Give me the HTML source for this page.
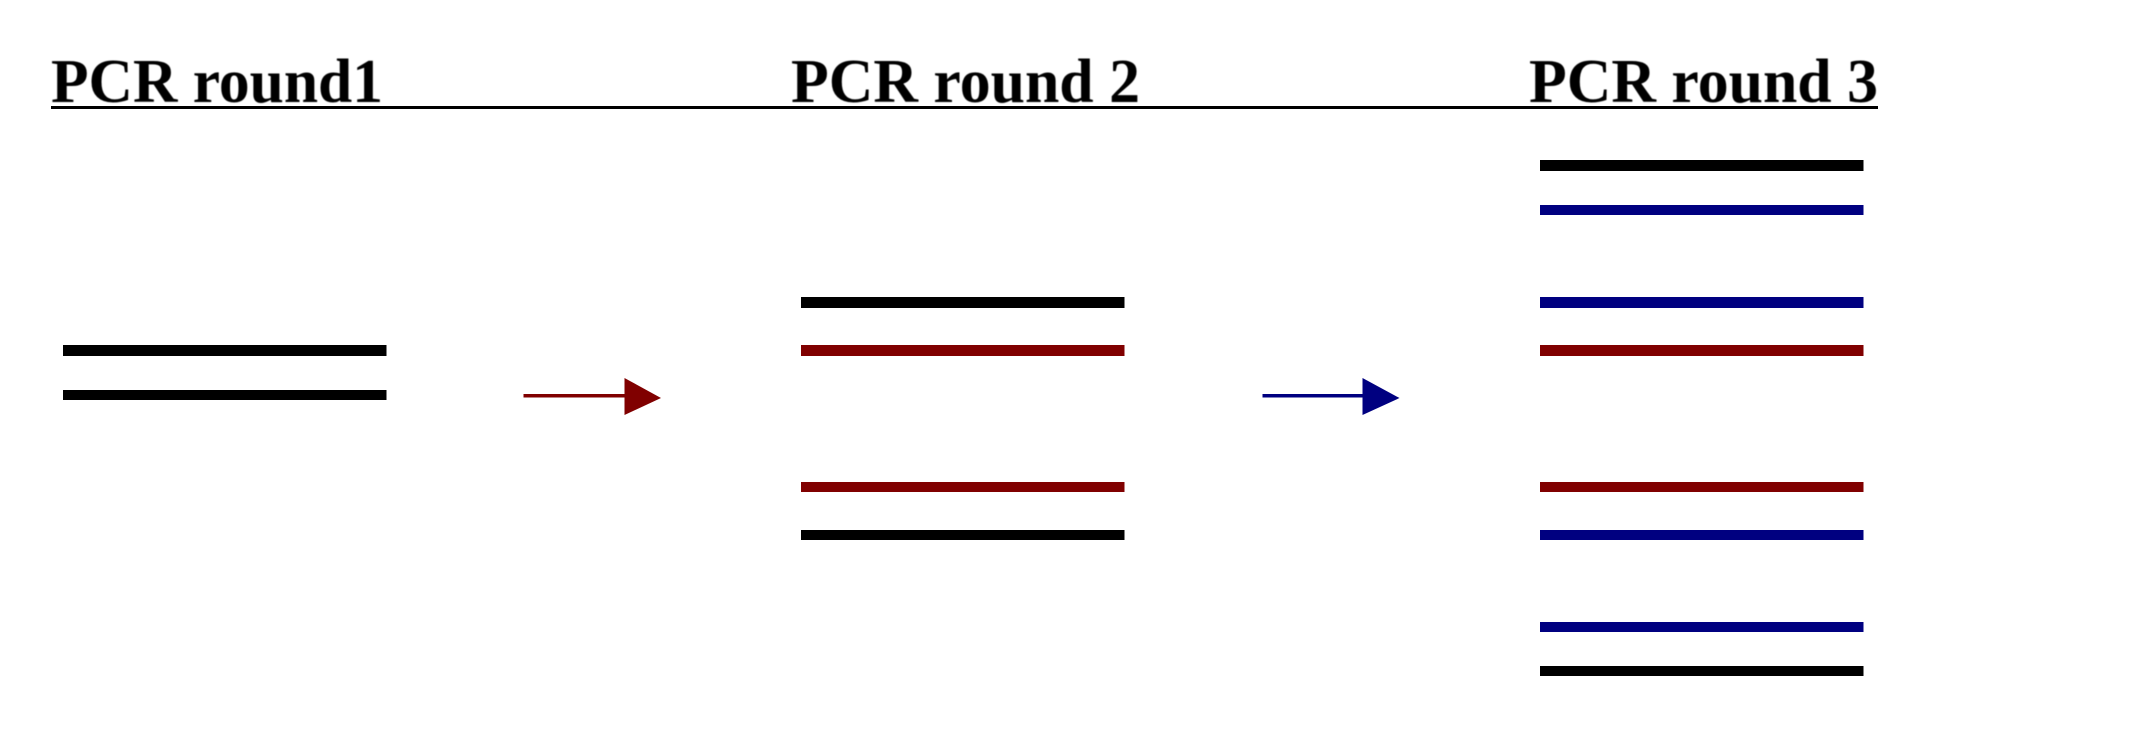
<!DOCTYPE html>
<html>
<head>
<meta charset="utf-8">
<style>
html,body{margin:0;padding:0;background:#fff;width:2155px;height:755px;overflow:hidden}
svg{display:block}
text{font-family:"Liberation Serif","Times New Roman",serif;font-weight:bold;font-size:62.5px;fill:#000;filter:blur(0.5px)}
</style>
</head>
<body>
<svg width="2155" height="755" viewBox="0 0 2155 755" xmlns="http://www.w3.org/2000/svg">
<rect width="2155" height="755" fill="#fff"/>
<text x="51" y="102" textLength="332" lengthAdjust="spacingAndGlyphs">PCR round1</text>
<text x="791" y="102" textLength="349" lengthAdjust="spacingAndGlyphs">PCR round 2</text>
<text x="1529" y="102" textLength="349" lengthAdjust="spacingAndGlyphs">PCR round 3</text>
<rect x="51" y="106" width="1827" height="3" fill="#000"/>

<rect x="63" y="345" width="323.5" height="11" fill="#000"/>
<rect x="63" y="390" width="323.5" height="10" fill="#000"/>

<rect x="523.5" y="394" width="102" height="3.5" fill="#800000"/>
<polygon points="624.5,378 661,398 624.5,415" fill="#800000"/>

<rect x="801" y="297" width="323.5" height="11" fill="#000"/>
<rect x="801" y="345" width="323.5" height="11" fill="#800000"/>
<rect x="801" y="482" width="323.5" height="10" fill="#800000"/>
<rect x="801" y="530" width="323.5" height="10" fill="#000"/>

<rect x="1262.5" y="394" width="100" height="3.5" fill="#000080"/>
<polygon points="1362.5,378 1399.5,398 1362.5,415" fill="#000080"/>

<rect x="1540" y="160" width="323.5" height="11" fill="#000"/>
<rect x="1540" y="205" width="323.5" height="10" fill="#000080"/>
<rect x="1540" y="297" width="323.5" height="11" fill="#000080"/>
<rect x="1540" y="345" width="323.5" height="11" fill="#800000"/>
<rect x="1540" y="482" width="323.5" height="10" fill="#800000"/>
<rect x="1540" y="530" width="323.5" height="10" fill="#000080"/>
<rect x="1540" y="622" width="323.5" height="10" fill="#000080"/>
<rect x="1540" y="666" width="323.5" height="10" fill="#000"/>
</svg>
</body>
</html>
